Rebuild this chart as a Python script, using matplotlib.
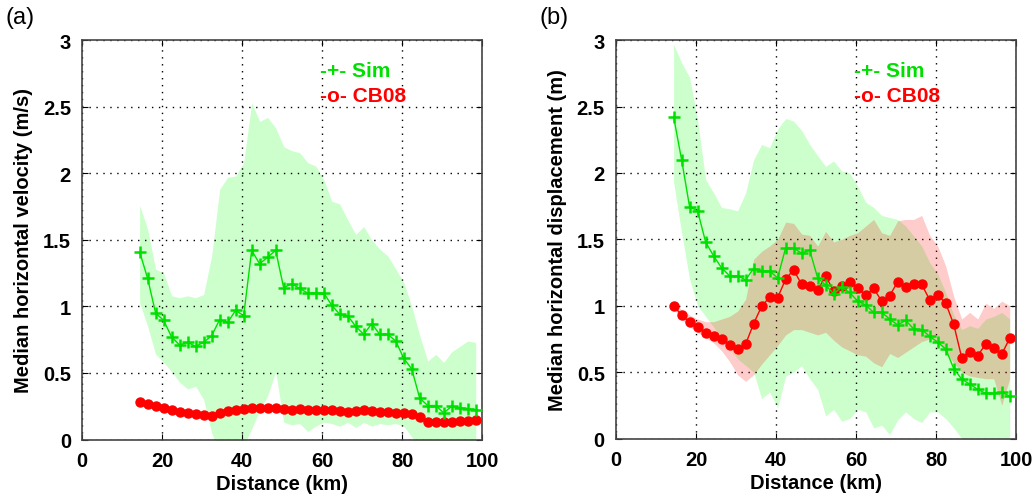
import matplotlib
matplotlib.use("Agg")
import matplotlib.pyplot as plt

plt.rcParams["font.family"] = ["Liberation Sans", "DejaVu Sans"]

# distance bins (km)
dist = [14.4, 16.4, 18.4, 20.4, 22.4, 24.4, 26.4, 28.4, 30.4, 32.4,
        34.4, 36.4, 38.4, 40.4, 42.4, 44.4, 46.4, 48.4, 50.4, 52.4,
        54.4, 56.4, 58.4, 60.4, 62.4, 64.4, 66.4, 68.4, 70.4, 72.4,
        74.4, 76.4, 78.4, 80.4, 82.4, 84.4, 86.4, 88.4, 90.4, 92.4,
        94.4, 96.4, 98.4]

# (a) median horizontal velocity (m/s)
sim_vel = [1.41, 1.21, 0.95, 0.895, 0.77, 0.71, 0.73, 0.70, 0.73, 0.78,
           0.90, 0.88, 0.97, 0.93, 1.42, 1.32, 1.37, 1.42, 1.14, 1.17,
           1.135, 1.10, 1.10, 1.10, 1.01, 0.94, 0.93, 0.85, 0.79, 0.87,
           0.79, 0.79, 0.74, 0.61, 0.53, 0.31, 0.255, 0.255, 0.20, 0.25,
           0.24, 0.23, 0.225]
sim_vel_hi = [1.76, 1.58, 1.28, 1.25, 1.08, 1.065, 1.08, 1.065, 1.09, 1.38,
              1.88, 1.97, 1.98, 2.08, 2.53, 2.39, 2.42, 2.34, 2.20, 2.17,
              2.155, 2.08, 2.055, 1.955, 1.79, 1.77, 1.65, 1.54, 1.60, 1.50,
              1.43, 1.38, 1.28, 1.18, 1.00, 0.78, 0.59, 0.64, 0.58, 0.66,
              0.70, 0.74, 0.73]
sim_vel_lo = [1.03, 0.85, 0.64, 0.58, 0.51, 0.43, 0.38, 0.40, 0.30, 0.05,
              -0.1, -0.1, -0.1, -0.05, 0.08, 0.22, 0.33, 0.51, 0.13, 0.11,
              0.12, 0.06, 0.10, 0.13, 0.12, 0.10, 0.13, 0.09, 0.13, 0.10,
              0.12, 0.11, 0.12, 0.10, 0.02, -0.1, -0.1, -0.1, -0.1, -0.1,
              -0.1, -0.1, -0.1]
cb_vel = [0.28, 0.265, 0.25, 0.235, 0.22, 0.21, 0.20, 0.195, 0.185, 0.18,
          0.20, 0.215, 0.225, 0.23, 0.235, 0.24, 0.24, 0.235, 0.23, 0.225,
          0.23, 0.225, 0.225, 0.22, 0.22, 0.215, 0.21, 0.215, 0.22, 0.215,
          0.21, 0.21, 0.20, 0.20, 0.19, 0.17, 0.13, 0.13, 0.135, 0.135,
          0.14, 0.14, 0.15]
cb_vel_hi = [0.30, 0.29, 0.275, 0.26, 0.245, 0.235, 0.225, 0.22, 0.21, 0.205,
             0.225, 0.24, 0.25, 0.255, 0.26, 0.265, 0.265, 0.26, 0.255, 0.25,
             0.255, 0.25, 0.25, 0.245, 0.245, 0.24, 0.235, 0.24, 0.245, 0.24,
             0.235, 0.235, 0.225, 0.225, 0.215, 0.195, 0.155, 0.155, 0.16, 0.16,
             0.165, 0.165, 0.175]
cb_vel_lo = [0.26, 0.24, 0.225, 0.21, 0.195, 0.185, 0.175, 0.17, 0.16, 0.155,
             0.175, 0.19, 0.20, 0.205, 0.21, 0.215, 0.215, 0.21, 0.205, 0.20,
             0.205, 0.20, 0.20, 0.195, 0.195, 0.19, 0.185, 0.19, 0.195, 0.19,
             0.185, 0.185, 0.175, 0.175, 0.165, 0.145, 0.105, 0.105, 0.11, 0.11,
             0.115, 0.115, 0.125]

# (b) median horizontal displacement (m)
sim_disp = [2.425, 2.10, 1.745, 1.715, 1.48, 1.375, 1.285, 1.225, 1.225, 1.195,
            1.28, 1.265, 1.26, 1.21, 1.435, 1.435, 1.395, 1.42, 1.21, 1.155,
            1.09, 1.14, 1.10, 1.035, 1.005, 0.95, 0.95, 0.90, 0.855, 0.89,
            0.825, 0.82, 0.77, 0.725, 0.675, 0.527, 0.447, 0.41, 0.37, 0.34,
            0.34, 0.347, 0.32]
sim_disp_hi = [2.97, 2.83, 2.72, 2.40, 1.95, 1.85, 1.74, 1.73, 1.715, 1.85,
               2.10, 2.215, 2.19, 2.33, 2.41, 2.39, 2.32, 2.215, 2.13, 2.05,
               2.09, 2.015, 2.00, 1.90, 1.78, 1.74, 1.68, 1.665, 1.65, 1.60,
               1.525, 1.45, 1.325, 1.24, 1.10, 0.93, 0.82, 0.85, 0.83, 0.90,
               0.92, 0.95, 0.90]
sim_disp_lo = [1.93, 1.55, 1.20, 1.00, 0.92, 0.84, 0.76, 0.68, 0.60, 0.55,
               0.50, 0.30, 0.35, 0.23, 0.47, 0.50, 0.55, 0.45, 0.37, 0.17,
               0.22, 0.13, 0.15, 0.22, 0.20, 0.08, 0.10, 0.03, 0.14, 0.20,
               0.15, 0.12, 0.20, 0.20, 0.15, 0.08, 0.0, -0.05, -0.1, -0.1,
               -0.1, -0.1, -0.1]
cb_disp = [1.00, 0.93, 0.875, 0.84, 0.795, 0.77, 0.75, 0.705, 0.675, 0.71,
           0.865, 0.995, 1.065, 1.06, 1.20, 1.27, 1.16, 1.15, 1.115, 1.225,
           1.11, 1.145, 1.18, 1.13, 1.08, 1.13, 1.035, 1.075, 1.18, 1.14,
           1.165, 1.16, 1.045, 1.08, 1.02, 0.86, 0.61, 0.655, 0.625, 0.71,
           0.68, 0.635, 0.755]
cb_disp_hi = [1.02, 0.97, 0.93, 0.90, 0.88, 0.88, 0.90, 0.92, 0.96, 1.05,
              1.35, 1.41, 1.45, 1.50, 1.63, 1.62, 1.54, 1.53, 1.45, 1.56,
              1.48, 1.50, 1.53, 1.55, 1.60, 1.65, 1.55, 1.53, 1.64, 1.65,
              1.65, 1.68, 1.53, 1.45, 1.30, 1.07, 0.90, 0.95, 0.90, 1.02,
              0.98, 1.035, 1.00]
cb_disp_lo = [0.98, 0.90, 0.84, 0.80, 0.76, 0.72, 0.66, 0.58, 0.48, 0.43,
              0.48, 0.56, 0.63, 0.70, 0.78, 0.82, 0.82, 0.80, 0.78, 0.80,
              0.74, 0.69, 0.66, 0.63, 0.62, 0.57, 0.54, 0.64, 0.61, 0.65,
              0.69, 0.73, 0.75, 0.72, 0.65, 0.57, 0.50, 0.47, 0.46, 0.45,
              0.45, 0.25, 0.45]

xticks = [0, 20, 40, 60, 80, 100]
yticks = [0, 0.5, 1, 1.5, 2, 2.5, 3]
ytick_labels = ["0", "0.5", "1", "1.5", "2", "2.5", "3"]

GREEN = "#00e000"
RED = "#ff0000"

fig = plt.figure(figsize=(10.34, 5.02), dpi=100)
ax1 = fig.add_axes([0.0793, 0.1225, 0.387, 0.7955])
ax2 = fig.add_axes([0.5957, 0.1245, 0.387, 0.7935])


def panel(ax, sim, sim_lo, sim_hi, cb, cb_lo, cb_hi, ylabel, tag):
    ax.fill_between(dist, sim_lo, sim_hi, color=(0, 1, 0), alpha=0.2, lw=0, zorder=1)
    ax.fill_between(dist, cb_lo, cb_hi, color=(1, 0, 0), alpha=0.2, lw=0, zorder=2)
    ax.plot(dist, sim, "-+", color=GREEN, lw=1, ms=8, mew=1.8, zorder=4)
    ax.plot(dist, cb, "-o", color=RED, lw=1, ms=6.5, mec=RED, zorder=3)
    ax.set_xlim(0, 100)
    ax.set_ylim(0, 3)
    ax.set_xticks(xticks)
    ax.set_yticks(yticks)
    ax.set_yticklabels(ytick_labels)
    ax.grid(True, linestyle=(0, (1, 4)), color="black", lw=1.0)
    ax.tick_params(direction="in", top=True, right=True, length=4,
                   labelsize=14.5, pad=8)
    for lab in ax.get_xticklabels() + ax.get_yticklabels():
        lab.set_fontweight("bold")
    for sp in ax.spines.values():
        sp.set_color("#444444")
        sp.set_linewidth(1.2)
    ax.set_xlabel("Distance (km)", fontsize=14.5, fontweight="bold", labelpad=3)
    ax.set_ylabel(ylabel, fontsize=14.5, fontweight="bold", labelpad=7)
    ax.text(59.5, 2.77, "-+- Sim", color=GREEN, fontsize=15, fontweight="bold",
            va="center", ha="left")
    ax.text(59.5, 2.585, "-o- CB08", color=RED, fontsize=15, fontweight="bold",
            va="center", ha="left")
    ax.text(-0.19, 1.03, tag, transform=ax.transAxes, fontsize=17,
            va="bottom", ha="left")


panel(ax1, sim_vel, sim_vel_lo, sim_vel_hi, cb_vel, cb_vel_lo, cb_vel_hi,
      "Median horizontal velocity (m/s)", "(a)")
panel(ax2, sim_disp, sim_disp_lo, sim_disp_hi, cb_disp, cb_disp_lo, cb_disp_hi,
      "Median horizontal displacement (m)", "(b)")

fig.savefig("out.png", dpi=100)
